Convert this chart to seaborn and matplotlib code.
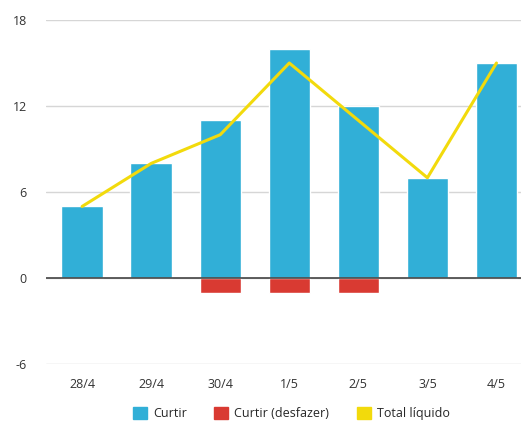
import pandas as pd
import matplotlib.pyplot as plt
import seaborn as sns
from matplotlib.patches import Patch

dates = ['28/4', '29/4', '30/4', '1/5', '2/5', '3/5', '4/5']
curtir = [5, 8, 11, 16, 12, 7, 15]
desfazer = [0, 0, -1, -1, -1, 0, 0]
total = [5, 8, 10, 15, 11, 7, 15]

df = pd.DataFrame({'data': dates, 'curtir': curtir, 'desfazer': desfazer, 'total': total})

sns.set_style('white')
plt.rcParams['font.family'] = ['Open Sans', 'DejaVu Sans']
plt.rcParams['axes.unicode_minus'] = False

blue = '#31afd7'
red = '#d93a32'
yellow = '#f2da0c'

fig = plt.figure(figsize=(5.25, 4.25), dpi=100)
ax = fig.add_axes([0.088, 0.143, 0.905, 0.81])

ax.set_ylim(-6, 18)
ax.set_yticks([-6, 0, 6, 12, 18])
ax.grid(axis='y', color='#d6d6d6', linewidth=1)
ax.set_axisbelow(True)

sns.barplot(data=df, x='data', y='curtir', color=blue, width=0.6, saturation=1, ax=ax, zorder=2)
sns.barplot(data=df, x='data', y='desfazer', color=red, width=0.6, saturation=1, ax=ax, zorder=2)
sns.lineplot(x=df.index, y=df['total'], color=yellow, linewidth=2.2, ax=ax, zorder=3)

ax.axhline(0, color='#444444', linewidth=1.2, zorder=4)
ax.set_xlim(-0.52, 6.36)
ax.set_xticks(range(len(dates)))
ax.set_xticklabels(dates)
ax.set_xlabel('')
ax.set_ylabel('')
for s in ax.spines.values():
    s.set_visible(False)
ax.tick_params(axis='both', length=0, labelsize=9, labelcolor='#333333')
ax.tick_params(axis='x', pad=10)
ax.tick_params(axis='y', pad=14)

handles = [Patch(color=blue, label='Curtir'),
           Patch(color=red, label='Curtir (desfazer)'),
           Patch(color=yellow, label='Total líquido')]
fig.legend(handles=handles, loc='center', bbox_to_anchor=(0.555, 0.027), ncol=3, frameon=False,
           fontsize=9, handlelength=1.1, handleheight=1.1, columnspacing=2.2, handletextpad=0.5)

fig.savefig('out.png', dpi=100)
